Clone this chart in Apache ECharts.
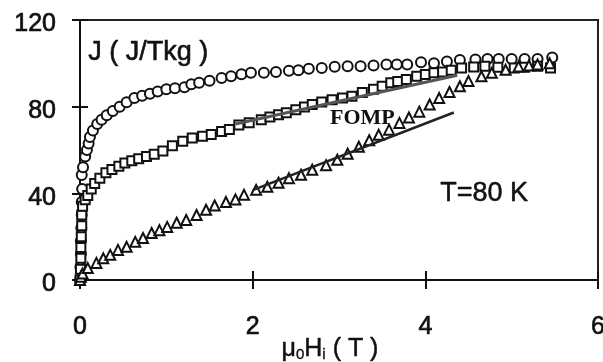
<!DOCTYPE html>
<html>
<head>
<meta charset="utf-8">
<script src="https://cdn.jsdelivr.net/npm/echarts@6/dist/echarts.min.js"></script>
<style>
  html, body { margin: 0; padding: 0; background: #fff; }
  #chart { width: 603px; height: 362px; }
</style>
</head>
<body>
<div id="chart"></div>
<script>
// ==========================================================================
// DONNEES : J en fonction de mu0 Hi (T=80 K)

var circleX = [0, 0.005, 0.01, 0.01, 0.015, 0.02, 0.02, 0.025, 0.02, 0.035, 0.06, 0.08, 0.1, 0.115, 0.15, 0.2, 0.25, 0.31, 0.38, 0.46, 0.54, 0.63, 0.72, 0.81, 0.9, 1.0, 1.1, 1.21, 1.29, 1.38, 1.5, 1.64, 1.75, 1.87, 1.98, 2.13, 2.27, 2.42, 2.53, 2.65, 2.8, 2.95, 3.1, 3.25, 3.4, 3.55, 3.67, 3.79, 3.95, 4.1, 4.25, 4.4, 4.58, 4.72, 4.85, 5.0, 5.15, 5.3, 5.47];
var circleY = [0, 6, 12, 18, 24, 30, 36, 42, 48.5, 52, 57, 60, 63, 66, 69, 72, 74, 76, 78, 80, 82, 84, 85, 86, 87, 88, 88.5, 89, 90.3, 91, 92, 93.2, 94, 95, 95.7, 95.7, 96, 96.6, 96.8, 97.5, 97.8, 98.4, 98.6, 98.6, 99, 99.5, 99.5, 99.5, 100.5, 100, 100.8, 101.5, 101.8, 102, 102, 102, 102, 102, 102.7];

var squareX = [0, 0.005, 0.01, 0.01, 0.015, 0.02, 0.02, 0.03, 0.06, 0.09, 0.13, 0.17, 0.23, 0.3, 0.37, 0.45, 0.52, 0.6, 0.68, 0.77, 0.86, 0.96, 1.07, 1.19, 1.3, 1.42, 1.52, 1.64, 1.73, 1.84, 1.96, 2.1, 2.2, 2.3, 2.39, 2.5, 2.6, 2.69, 2.8, 2.92, 3.04, 3.15, 3.27, 3.4, 3.5, 3.6, 3.68, 3.78, 3.9, 4.0, 4.1, 4.2, 4.3, 4.42, 4.56, 4.69, 4.84, 5.03, 5.15, 5.3, 5.45];
var squareY = [0, 5, 10, 15, 20, 25, 30, 34, 37, 39, 42, 44.5, 47, 49.5, 51, 52.5, 54, 55, 56, 57, 58, 59.5, 62, 64, 65.5, 66.3, 67.2, 68.5, 69.5, 71.5, 72.6, 74, 75.2, 76.3, 77.2, 78.6, 79.8, 81, 82.2, 83.2, 84, 84.8, 86.5, 88, 89.4, 91, 91.6, 92.5, 94, 94.8, 95.6, 96, 96.8, 97.8, 98.3, 98.6, 98.2, 97.8, 98.2, 98.6, 97.8];

var triangleX = [0, 0.01, 0.03, 0.09, 0.19, 0.27, 0.35, 0.44, 0.54, 0.64, 0.73, 0.83, 0.92, 1.01, 1.12, 1.23, 1.35, 1.46, 1.56, 1.69, 1.8, 1.9, 2.04, 2.17, 2.3, 2.42, 2.56, 2.69, 2.85, 2.98, 3.1, 3.23, 3.35, 3.46, 3.58, 3.7, 3.81, 3.93, 4.05, 4.16, 4.28, 4.4, 4.5, 4.65, 4.77, 4.93, 5.08, 5.2, 5.3, 5.44];
var triangleY = [0, 1.5, 3, 5.5, 7.9, 10, 11.6, 13.9, 15.3, 17.6, 19.4, 21.7, 23, 24.5, 26.4, 27.7, 30, 32.4, 34.4, 36, 37.2, 39.3, 41.6, 43, 44.9, 47, 48.6, 50.9, 53, 55.5, 58.3, 61.5, 64.5, 67, 69.4, 72.5, 75, 77.7, 81, 84, 86.8, 89.4, 91.8, 94, 95.6, 97, 98.5, 99, 99.5, 100];

// droites d'ajustement
var squareFitX = [1.8, 4.37];
var squareFitY = [72.0, 94.5];
var triangleFitX = [2.0, 4.33];
var triangleFitY = [41.5, 77.3];

var xTicks = [0, 2, 4, 6];
var yTicks = [0, 40, 80, 120];

function paires(xs, ys) {
  var out = [];
  for (var i = 0; i < xs.length; i++) {
    out.push([xs[i], ys[i]]);
  }
  return out;
}

var fontFamily = '"Liberation Sans", Arial, sans-serif';
var ink = '#111';

var chart = echarts.init(document.getElementById('chart'), null, {renderer: 'canvas'});

// axes : ticks traversants -> un axe "dehors" + un axe "dedans"
var axeX = {
  type: 'value',
  position: 'bottom',
  min: xTicks[0],
  max: xTicks[xTicks.length - 1],
  interval: 2,
  splitLine: {show: false}
};
var axeY = {
  type: 'value',
  position: 'left',
  min: yTicks[0],
  max: yTicks[yTicks.length - 1],
  interval: 40,
  splitLine: {show: false}
};

// texte un peu plus gras (aspect scanne)
var labelStyle = {color: ink, fontSize: 25, fontFamily: fontFamily, textBorderColor: ink, textBorderWidth: 0.7};

var option = {
  animation: false,
  backgroundColor: '#fff',
  grid: {
    left: 80, right: 5, top: 20, bottom: 82,
    outerBoundsMode: 'none',
    containLabel: false,
    show: true,
    borderColor: '#222',
    borderWidth: 2
  },
  xAxis: [
    Object.assign({}, axeX, {
      axisLine: {lineStyle: {color: ink, width: 2}},
      axisTick: {inside: false, length: 9, lineStyle: {color: ink, width: 2}},
      axisLabel: Object.assign({margin: 35}, labelStyle),
      name: '{a|μ}{s|0}{a|H}{s|i}{a| ( T )}',
      nameLocation: 'middle',
      nameGap: 52,
      nameMoveOverlap: false,
      nameTextStyle: {
        padding: [0, 18, 0, 0],
        rich: {
          a: {fontSize: 25, fontFamily: fontFamily, color: ink, lineHeight: 30, verticalAlign: 'bottom', textBorderColor: ink, textBorderWidth: 0.5},
          s: {fontSize: 15, fontFamily: fontFamily, color: ink, lineHeight: 30, verticalAlign: 'bottom', textBorderColor: ink, textBorderWidth: 0.4}
        }
      }
    }),
    Object.assign({}, axeX, {
      axisLine: {show: false},
      axisTick: {inside: true, length: 9, lineStyle: {color: ink, width: 2}},
      axisLabel: {show: false}
    })
  ],
  yAxis: [
    Object.assign({}, axeY, {
      axisLine: {lineStyle: {color: ink, width: 2}},
      axisTick: {inside: false, length: 8, lineStyle: {color: ink, width: 2}},
      axisLabel: Object.assign({
        margin: 24,
        formatter: '{v|{value}}',
        rich: {v: {fontSize: 25, fontFamily: fontFamily, color: ink, textBorderColor: ink, textBorderWidth: 0.7, padding: [9, 0, 0, 0]}}
      }, labelStyle)
    }),
    Object.assign({}, axeY, {
      axisLine: {show: false},
      axisTick: {inside: true, length: 8, lineStyle: {color: ink, width: 2}},
      axisLabel: {show: false}
    })
  ],
  graphic: [
    {
      type: 'text', left: 88, top: 39,
      style: {text: 'J ( J/Tkg )', font: '27px ' + fontFamily, fill: ink, stroke: ink, lineWidth: 0.6}
    },
    {
      type: 'text', left: 330, top: 107,
      style: {text: 'FOMP', font: 'bold 22px "Liberation Serif", "Times New Roman", serif', fill: ink}
    },
    {
      type: 'text', left: 440, top: 180,
      style: {text: 'T=80 K', font: '27px ' + fontFamily, fill: ink, stroke: ink, lineWidth: 0.5}
    }
  ],
  series: [
    {
      name: 'cercles',
      type: 'scatter',
      symbol: 'circle',
      symbolSize: 10,
      data: paires(circleX, circleY),
      itemStyle: {color: '#fff', borderColor: '#111', borderWidth: 2, opacity: 1}
    },
    {
      name: 'carres',
      type: 'scatter',
      symbol: 'rect',
      symbolSize: 9,
      data: paires(squareX, squareY),
      itemStyle: {color: '#fff', borderColor: '#111', borderWidth: 2, opacity: 1}
    },
    {
      name: 'triangles',
      type: 'scatter',
      symbol: 'triangle',
      symbolSize: 10,
      data: paires(triangleX, triangleY),
      itemStyle: {color: '#fff', borderColor: '#111', borderWidth: 2, opacity: 1}
    },
    {
      name: 'fit carres',
      type: 'line',
      data: paires(squareFitX, squareFitY),
      symbol: 'none',
      lineStyle: {color: '#555', width: 3},
      z: 3
    },
    {
      name: 'fit triangles',
      type: 'line',
      data: paires(triangleFitX, triangleFitY),
      symbol: 'none',
      lineStyle: {color: '#222', width: 2.5},
      z: 3
    }
  ]
};

chart.setOption(option);
</script>
</body>
</html>
